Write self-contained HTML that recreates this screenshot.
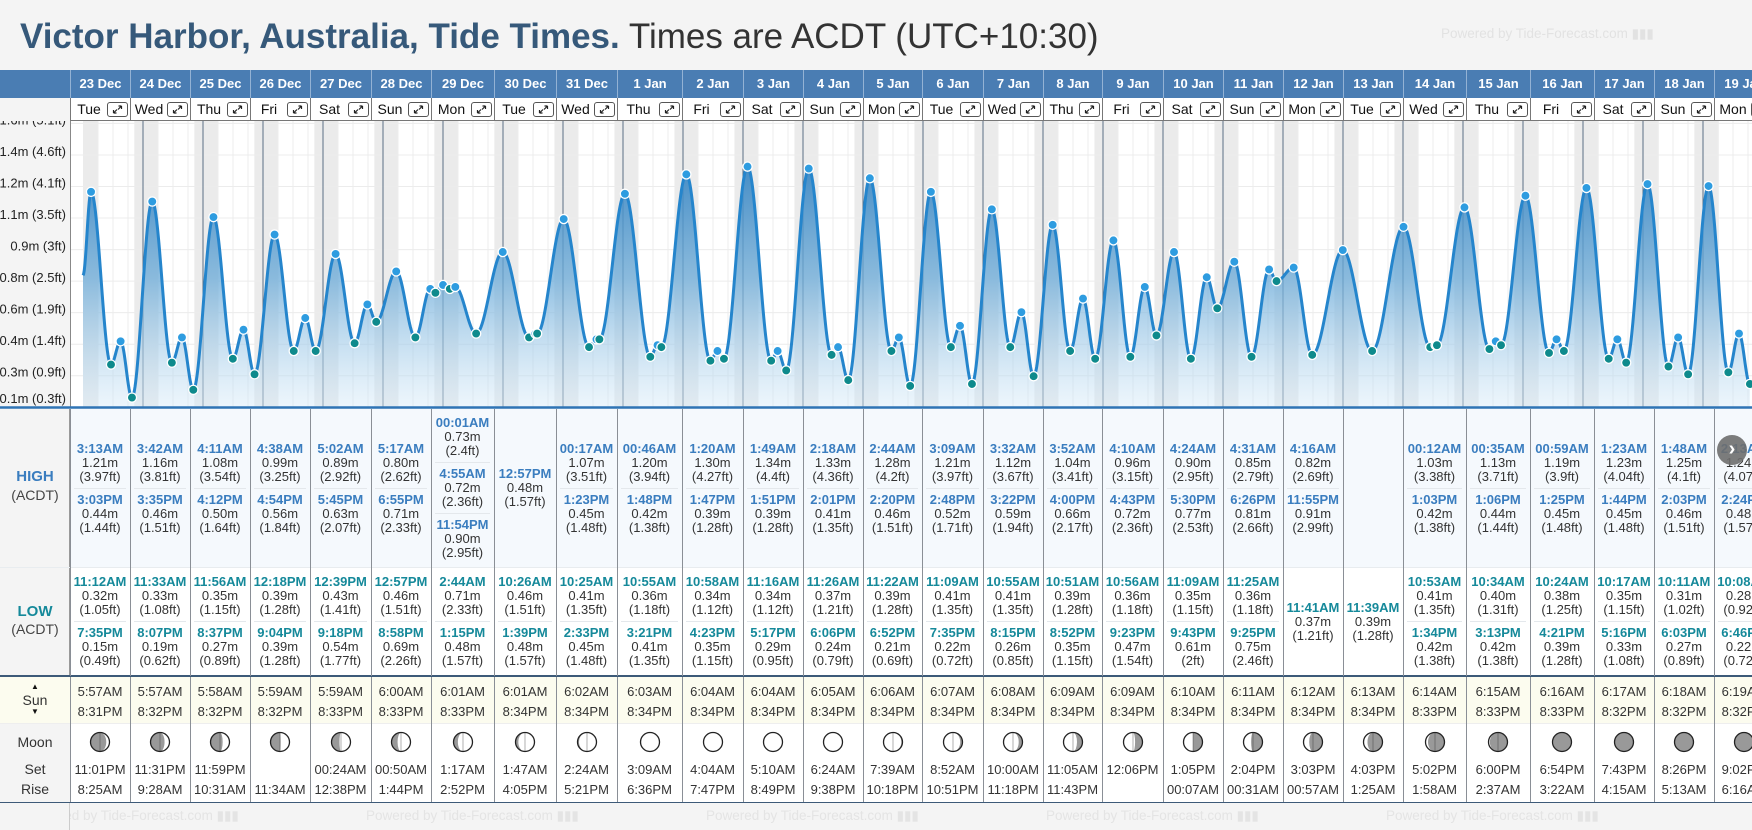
<!DOCTYPE html>
<html><head><meta charset="utf-8">
<style>
*{margin:0;padding:0;box-sizing:border-box}
html,body{width:1752px;height:830px;overflow:hidden}
body{background:#f4f4f4;font-family:"Liberation Sans",Arial,sans-serif;position:relative;color:#333}
#wrap{position:absolute;left:0;top:0;width:1752px;height:830px;overflow:hidden}
.abs{position:absolute}
.cell{position:absolute;display:flex;flex-direction:column;align-items:center;justify-content:center;text-align:center}
.t{font-weight:bold;font-size:13px;line-height:14px}
.v{font-size:13px;line-height:14px;color:#333}
.ent{padding:4px 0;width:88%;display:flex;flex-direction:column;align-items:center}
.sep{border-top:1px solid #e4e8ec}
</style></head>
<body>
<div id="wrap">
<div class="abs" style="left:20px;top:17px;font-size:35px;line-height:40px;white-space:nowrap"><b style="color:#36597a">Victor Harbor, Australia, Tide Times.</b> <span style="color:#333">Times are ACDT (UTC+10:30)</span></div>
<div class="abs" style="left:1441px;top:26px;font-size:13.5px;color:#e2e2e2;white-space:nowrap">Powered by Tide-Forecast.com ▮▮▮</div>
<svg id="chart" class="abs" style="left:0;top:0" width="1752" height="830"></svg>
<div id="ui" class="abs" style="left:0;top:0;width:1752px;height:830px;overflow:hidden"></div>
</div>
<script>
const dayLabels=["23 Dec","24 Dec","25 Dec","26 Dec","27 Dec","28 Dec","29 Dec","30 Dec","31 Dec","1 Jan","2 Jan","3 Jan","4 Jan","5 Jan","6 Jan","7 Jan","8 Jan","9 Jan","10 Jan","11 Jan","12 Jan","13 Jan","14 Jan","15 Jan","16 Jan","17 Jan","18 Jan","19 Jan"];
const dayNames=["Tue","Wed","Thu","Fri","Sat","Sun","Mon","Tue","Wed","Thu","Fri","Sat","Sun","Mon","Tue","Wed","Thu","Fri","Sat","Sun","Mon","Tue","Wed","Thu","Fri","Sat","Sun","Mon"];
const highTimes=[["3:13AM","3:03PM"],["3:42AM","3:35PM"],["4:11AM","4:12PM"],["4:38AM","4:54PM"],["5:02AM","5:45PM"],["5:17AM","6:55PM"],["00:01AM","4:55AM","11:54PM"],["12:57PM"],["00:17AM","1:23PM"],["00:46AM","1:48PM"],["1:20AM","1:47PM"],["1:49AM","1:51PM"],["2:18AM","2:01PM"],["2:44AM","2:20PM"],["3:09AM","2:48PM"],["3:32AM","3:22PM"],["3:52AM","4:00PM"],["4:10AM","4:43PM"],["4:24AM","5:30PM"],["4:31AM","6:26PM"],["4:16AM","11:55PM"],[],["00:12AM","1:03PM"],["00:35AM","1:06PM"],["00:59AM","1:25PM"],["1:23AM","1:44PM"],["1:48AM","2:03PM"],["2:13AM","2:24PM"]];
const highHeights=[[1.21,0.44],[1.16,0.46],[1.08,0.50],[0.99,0.56],[0.89,0.63],[0.80,0.71],[0.73,0.72,0.90],[0.48],[1.07,0.45],[1.20,0.42],[1.30,0.39],[1.34,0.39],[1.33,0.41],[1.28,0.46],[1.21,0.52],[1.12,0.59],[1.04,0.66],[0.96,0.72],[0.90,0.77],[0.85,0.81],[0.82,0.91],[],[1.03,0.42],[1.13,0.44],[1.19,0.45],[1.23,0.45],[1.25,0.46],[1.24,0.48]];
const lowTimes=[["11:12AM","7:35PM"],["11:33AM","8:07PM"],["11:56AM","8:37PM"],["12:18PM","9:04PM"],["12:39PM","9:18PM"],["12:57PM","8:58PM"],["2:44AM","1:15PM"],["10:26AM","1:39PM"],["10:25AM","2:33PM"],["10:55AM","3:21PM"],["10:58AM","4:23PM"],["11:16AM","5:17PM"],["11:26AM","6:06PM"],["11:22AM","6:52PM"],["11:09AM","7:35PM"],["10:55AM","8:15PM"],["10:51AM","8:52PM"],["10:56AM","9:23PM"],["11:09AM","9:43PM"],["11:25AM","9:25PM"],["11:41AM"],["11:39AM"],["10:53AM","1:34PM"],["10:34AM","3:13PM"],["10:24AM","4:21PM"],["10:17AM","5:16PM"],["10:11AM","6:03PM"],["10:08AM","6:46PM"]];
const lowHeights=[[0.32,0.15],[0.33,0.19],[0.35,0.27],[0.39,0.39],[0.43,0.54],[0.46,0.69],[0.71,0.48],[0.46,0.48],[0.41,0.45],[0.36,0.41],[0.34,0.35],[0.34,0.29],[0.37,0.24],[0.39,0.21],[0.41,0.22],[0.41,0.26],[0.39,0.35],[0.36,0.47],[0.35,0.61],[0.36,0.75],[0.37],[0.39],[0.41,0.42],[0.40,0.42],[0.38,0.39],[0.35,0.33],[0.31,0.27],[0.28,0.22]];
const sunrise=["5:57AM","5:57AM","5:58AM","5:59AM","5:59AM","6:00AM","6:01AM","6:01AM","6:02AM","6:03AM","6:04AM","6:04AM","6:05AM","6:06AM","6:07AM","6:08AM","6:09AM","6:09AM","6:10AM","6:11AM","6:12AM","6:13AM","6:14AM","6:15AM","6:16AM","6:17AM","6:18AM","6:19AM"];
const sunset=["8:31PM","8:32PM","8:32PM","8:32PM","8:33PM","8:33PM","8:33PM","8:34PM","8:34PM","8:34PM","8:34PM","8:34PM","8:34PM","8:34PM","8:34PM","8:34PM","8:34PM","8:34PM","8:34PM","8:34PM","8:34PM","8:34PM","8:33PM","8:33PM","8:33PM","8:32PM","8:32PM","8:32PM"];
const moonSet=["11:01PM","11:31PM","11:59PM","","00:24AM","00:50AM","1:17AM","1:47AM","2:24AM","3:09AM","4:04AM","5:10AM","6:24AM","7:39AM","8:52AM","10:00AM","11:05AM","12:06PM","1:05PM","2:04PM","3:03PM","4:03PM","5:02PM","6:00PM","6:54PM","7:43PM","8:26PM","9:02PM"];
const moonRise=["8:25AM","9:28AM","10:31AM","11:34AM","12:38PM","1:44PM","2:52PM","4:05PM","5:21PM","6:36PM","7:47PM","8:49PM","9:38PM","10:18PM","10:51PM","11:18PM","11:43PM","","00:07AM","00:31AM","00:57AM","1:25AM","1:58AM","2:37AM","3:22AM","4:15AM","5:13AM","6:16AM"];
const moonLit=[0.17,0.26,0.36,0.47,0.58,0.68,0.77,0.85,0.92,0.97,0.99,1.0,0.98,0.94,0.88,0.8,0.71,0.61,0.5,0.4,0.3,0.21,0.13,0.07,0.03,0.01,0.0,0.01];
const moonWaxing=[1,1,1,1,1,1,1,1,1,1,1,1,0,0,0,0,0,0,0,0,0,0,0,0,0,0,0,0];
const curveStart=0.78;
const tickVals=[0.1,0.2625,0.425,0.5875,0.75,0.9125,1.075,1.2375,1.4,1.5625];
const tickLabels=["0.1m (0.3ft)","0.3m (0.9ft)","0.4m (1.4ft)","0.6m (1.9ft)","0.8m (2.5ft)","0.9m (3ft)","1.1m (3.5ft)","1.2m (4.1ft)","1.4m (4.6ft)","1.6m (5.1ft)"];

const colB=[70,130,190,250,310,371,431,494,556,617,682,743,803,863,922,983,1043,1102,1163,1223,1283,1343,1403,1466,1530,1594,1654,1714,1774];
const PT=121,PB=407,PL=70;
function xOf(d,h){return 83+d*60+h*2.5;}
function yOf(m){return 426.7-194.1*m;}
function hrs(s){const r=/(\d+):(\d+)(AM|PM)/.exec(s);let h=(+r[1])%12;if(r[3]=="PM")h+=12;return h+(+r[2])/60;}
function ft(m){return parseFloat((m*3.28084).toFixed(2))+"ft";}
const NS="http://www.w3.org/2000/svg";
const svg=document.getElementById('chart');
function S(tag,attrs,parent){const e=document.createElementNS(NS,tag);for(const k in attrs)e.setAttribute(k,attrs[k]);(parent||svg).appendChild(e);return e;}
const defs=S('defs',{});
const cp=S('clipPath',{id:'plotclip'},defs);S('rect',{x:PL,y:PT,width:1752-PL,height:PB-PT},cp);
const cp2=S('clipPath',{id:'labclip'},defs);S('rect',{x:0,y:PT,width:PL,height:PB-PT+10},cp2);
const lg=S('linearGradient',{id:'fillg',x1:0,y1:150,x2:0,y2:407,gradientUnits:'userSpaceOnUse'},defs);
S('stop',{offset:0,'stop-color':'#2f7fbf','stop-opacity':0.95},lg);
S('stop',{offset:0.5,'stop-color':'#6aaad8','stop-opacity':0.75},lg);
S('stop',{offset:1,'stop-color':'#d6eaf8','stop-opacity':0.45},lg);

S('rect',{x:0,y:PT,width:PL,height:PB-PT,fill:'#f4f4f4'});
const plot=S('g',{'clip-path':'url(#plotclip)'});


S('rect',{x:PL,y:PT,width:1752-PL,height:PB-PT,fill:'#fff'},plot);
for(let d=0;d<28;d++){
  const x0=d==0?83:xOf(d-1,hrs(sunset[d-1]));
  const x1=xOf(d,hrs(sunrise[d]));
  const b=S('rect',{x:x0,y:PT,width:x1-x0,height:PB-PT,fill:'#ebebeb'},plot);
  
  
}
{const x0=xOf(27,hrs(sunset[27]));S('rect',{x:x0,y:PT,width:Math.max(0,1752-x0),height:PB-PT,fill:'#ebebeb'},plot);}
for(let d=0;d<28;d++)for(const h of [6,12,18]){const x=xOf(d,h);S('line',{x1:x,x2:x,y1:PT,y2:PB,stroke:'#ececec','stroke-width':1},plot);}
tickVals.forEach(v=>{const y=yOf(v);S('line',{x1:PL,x2:1752,y1:y,y2:y,stroke:'#ececec','stroke-width':1},plot);});
for(let d=1;d<28;d++){const x=xOf(d,0);const l=S('line',{x1:x,x2:x,y1:PT,y2:PB,stroke:'#5b6f84','stroke-width':1},plot);
 
 }
const ev=[];
for(let d=0;d<28;d++){
  highTimes[d].forEach((t,i)=>ev.push({t:d*24+hrs(t),m:highHeights[d][i],hi:1}));
  lowTimes[d].forEach((t,i)=>ev.push({t:d*24+hrs(t),m:lowHeights[d][i],hi:0}));
}
ev.sort((a,b)=>a.t-b.t);
const pts=[{t:0,m:curveStart}].concat(ev);
let dstr='';
for(let i=0;i<pts.length-1;i++){
  const a=pts[i],b=pts[i+1];const n=Math.max(4,Math.ceil((b.t-a.t)*4));
  for(let k=(i==0?0:1);k<=n;k++){const f=k/n;const t=a.t+(b.t-a.t)*f;const m=a.m+(b.m-a.m)*(1-Math.cos(Math.PI*f))/2;
    dstr+=(dstr?'L':'M')+xOf(0,t).toFixed(2)+','+yOf(m).toFixed(2);}
}
const last=pts[pts.length-1];
const area=S('path',{d:dstr+'L'+xOf(0,last.t)+','+PB+'L83,'+PB+'Z',fill:'url(#fillg)'},plot);


const line=S('path',{d:dstr,fill:'none',stroke:'#2585cc','stroke-width':3,'stroke-linejoin':'round'},plot);


ev.forEach(e=>{const c=S('circle',{cx:xOf(0,e.t),cy:yOf(e.m),r:4.6,fill:e.hi?'#2e9ce0':'#0e8a8c',stroke:'#fff','stroke-width':1.3},plot);
 
 });
S('line',{x1:PL+0.5,x2:PL+0.5,y1:PT,y2:PB,stroke:'#888','stroke-width':1});
S('line',{x1:0,x2:1752,y1:PB+0.5,y2:PB+0.5,stroke:'#2f74b5','stroke-width':2.5});
const lab=S('g',{'clip-path':'url(#labclip)'});
tickVals.forEach((v,i)=>{const y=Math.min(yOf(v)+1,403);const t=S('text',{x:66,y:y,'text-anchor':'end','font-size':13,fill:'#222','font-family':'Liberation Sans, sans-serif'},lab);t.textContent=tickLabels[i];
 
 });

const ui=document.getElementById('ui');
function D(css,parent,cls){const e=document.createElement('div');e.className='abs'+(cls?' '+cls:'');e.style.cssText=css;(parent||ui).appendChild(e);return e;}
const hb=D('left:0;top:70px;width:1752px;height:28px;background:#4a7db3');


D('left:0;top:98px;width:70px;height:23px;background:#f4f4f4');
const hs=D('left:70px;top:409px;width:1682px;height:158px;background:#f5f9fd');


const ls=D('left:70px;top:567px;width:1682px;height:109px;background:#fff');


D('left:0;top:409px;width:70px;height:267px;background:#f4f4f4;border-right:1px solid #999');
D('left:0;top:567px;width:1752px;height:1px;background:#e8ecef');
D('left:0;top:675px;width:1752px;height:2px;background:#3d5a78');
const sr=D('left:0;top:677px;width:1752px;height:46px;background:#fcfcef');


D('left:0;top:723px;width:1752px;height:1px;background:#eee');
D('left:70px;top:724px;width:1682px;height:78px;background:#fff');
D('left:0;top:724px;width:70px;height:78px;background:#f4f4f4');
D('left:0;top:802px;width:1752px;height:1px;background:#3d5a78');
function L(txt,top,css,name){const e=D('left:0;top:'+top+'px;width:70px;text-align:center;'+css);e.textContent=txt;
 
 return e;}
L('HIGH',468,'font-size:15px;font-weight:bold;color:#3a7dbf','high-label');
L('(ACDT)',487,'font-size:14px;color:#444','high-timezone-label');
L('LOW',603,'font-size:15px;font-weight:bold;color:#15899a','low-label');
L('(ACDT)',621,'font-size:14px;color:#444','low-timezone-label');
L('▲',682,'font-size:8px;color:#111','sunrise-arrow');
L('Sun',692,'font-size:14px;color:#333','sun-label');
L('▼',707,'font-size:8px;color:#111','sunset-arrow');
L('Moon',734,'font-size:14px;color:#333','moon-label');
L('Set',761,'font-size:14px;color:#333','moonset-label');
L('Rise',781,'font-size:14px;color:#333','moonrise-label');
for(let k=0;k<5;k++){const w=D('left:'+(26+k*340)+'px;top:808px;font-size:13.5px;color:#e4e4e4;white-space:nowrap');w.textContent='Powered by Tide-Forecast.com ▮▮▮';
 
 }
D('left:0;top:803px;width:70px;height:27px;background:#f4f4f4');
D('left:69px;top:803px;width:1px;height:27px;background:#ccc');

function entry(parent,time,m,color,first){
  const e=document.createElement('div');e.className='ent'+(first?'':' sep');
  const t=document.createElement('div');t.className='t';t.style.color=color;t.textContent=time;
  const a=document.createElement('div');a.className='v';a.textContent=m.toFixed(2)+'m';
  const b=document.createElement('div');b.className='v';b.textContent='('+ft(m)+')';
  e.appendChild(t);e.appendChild(a);e.appendChild(b);parent.appendChild(e);
  
  
}
function moonSvg(lit,wax){
  const r=9.5,cx=11,cy=11;
  let p='';
  if(lit>0.005){
    const rx=Math.abs(1-2*lit)*r;
    const s=wax?1:0;
    const sweepTerm=(lit>0.5)?s:1-s;
    p='<path d="M'+cx+','+(cy-r)+' A'+r+','+r+' 0 0 '+s+' '+cx+','+(cy+r)+' A'+rx.toFixed(2)+','+r+' 0 0 '+sweepTerm+' '+cx+','+(cy-r)+'Z" fill="#fff"/>';
  }
  return '<svg width="22" height="22"><circle cx="11" cy="11" r="9.5" fill="#999"/>'+p+'<line x1="11" y1="1.5" x2="11" y2="20.5" stroke="#222" stroke-width="0.6" opacity="'+(lit>0.03&&lit<0.97?0.6:0)+'"/><circle cx="11" cy="11" r="9.5" fill="none" stroke="#222" stroke-width="1.3"/></svg>';
}
for(let d=0;d<28;d++){
  const x=colB[d],w=colB[d+1]-colB[d];
  const h=D('left:'+x+'px;top:70px;width:'+w+'px;height:28px;border-left:1px solid #93b2d4;color:#fff;font-weight:bold;font-size:13px;line-height:28px;text-align:center;white-space:nowrap');
  h.textContent=dayLabels[d];
  
  
  const dr=D('left:'+x+'px;top:98px;width:'+w+'px;height:23px;background:#fff;border-left:1px solid #777;border-bottom:1px solid #777');
  
  
  const dn=D('left:0;top:2px;width:'+(w-24)+'px;text-align:center;font-size:14px;color:#111;line-height:18px',dr);
  dn.textContent=dayNames[d];
  
  
  const ex=D('left:'+(w-24)+'px;top:4px;width:21px;height:15px;border:1px solid #555;border-radius:3px;background:#fff',dr);
  ex.innerHTML='<svg width="19" height="13"><path d="M5.5,10 L9,6.5 M5.5,10 v-3 M5.5,10 h3 M13.5,3 L10,6.5 M13.5,3 v3 M13.5,3 h-3" stroke="#222" stroke-width="1.2" fill="none"/></svg>';
  
  
  D('left:'+x+'px;top:409px;width:1px;height:267px;background:#8a8f96');
  D('left:'+x+'px;top:677px;width:1px;height:125px;background:#8a8f96');
  const hc=D('left:'+x+'px;top:409px;width:'+w+'px;height:158px',null,'cell');
  
  
  highTimes[d].forEach((t,i)=>entry(hc,t,highHeights[d][i],'#3a7dbf',i==0));
  const lc=D('left:'+x+'px;top:567px;width:'+w+'px;height:109px',null,'cell');
  
  
  lowTimes[d].forEach((t,i)=>entry(lc,t,lowHeights[d][i],'#15899a',i==0));
  const sc=D('left:'+x+'px;top:682px;width:'+w+'px;text-align:center;font-size:13px;line-height:20px;color:#333');
  sc.innerHTML=sunrise[d]+'<br>'+sunset[d];
  
  
  const mi=D('left:'+(x+w/2-11)+'px;top:731px;width:22px;height:22px');
  mi.innerHTML=moonSvg(moonLit[d],moonWaxing[d]);
  
  
  const mc=D('left:'+x+'px;top:760px;width:'+w+'px;text-align:center;font-size:13px;line-height:20px;color:#333');
  mc.innerHTML=(moonSet[d]||'&nbsp;')+'<br>'+(moonRise[d]||'&nbsp;');
  
  
}
const nb=D('left:1717px;top:435px;width:30px;height:30px;border-radius:50%;background:rgba(110,110,110,0.9);color:#fff;font-size:20px;line-height:28px;text-align:center;font-weight:bold');
nb.textContent='›';


</script>
</body></html>
